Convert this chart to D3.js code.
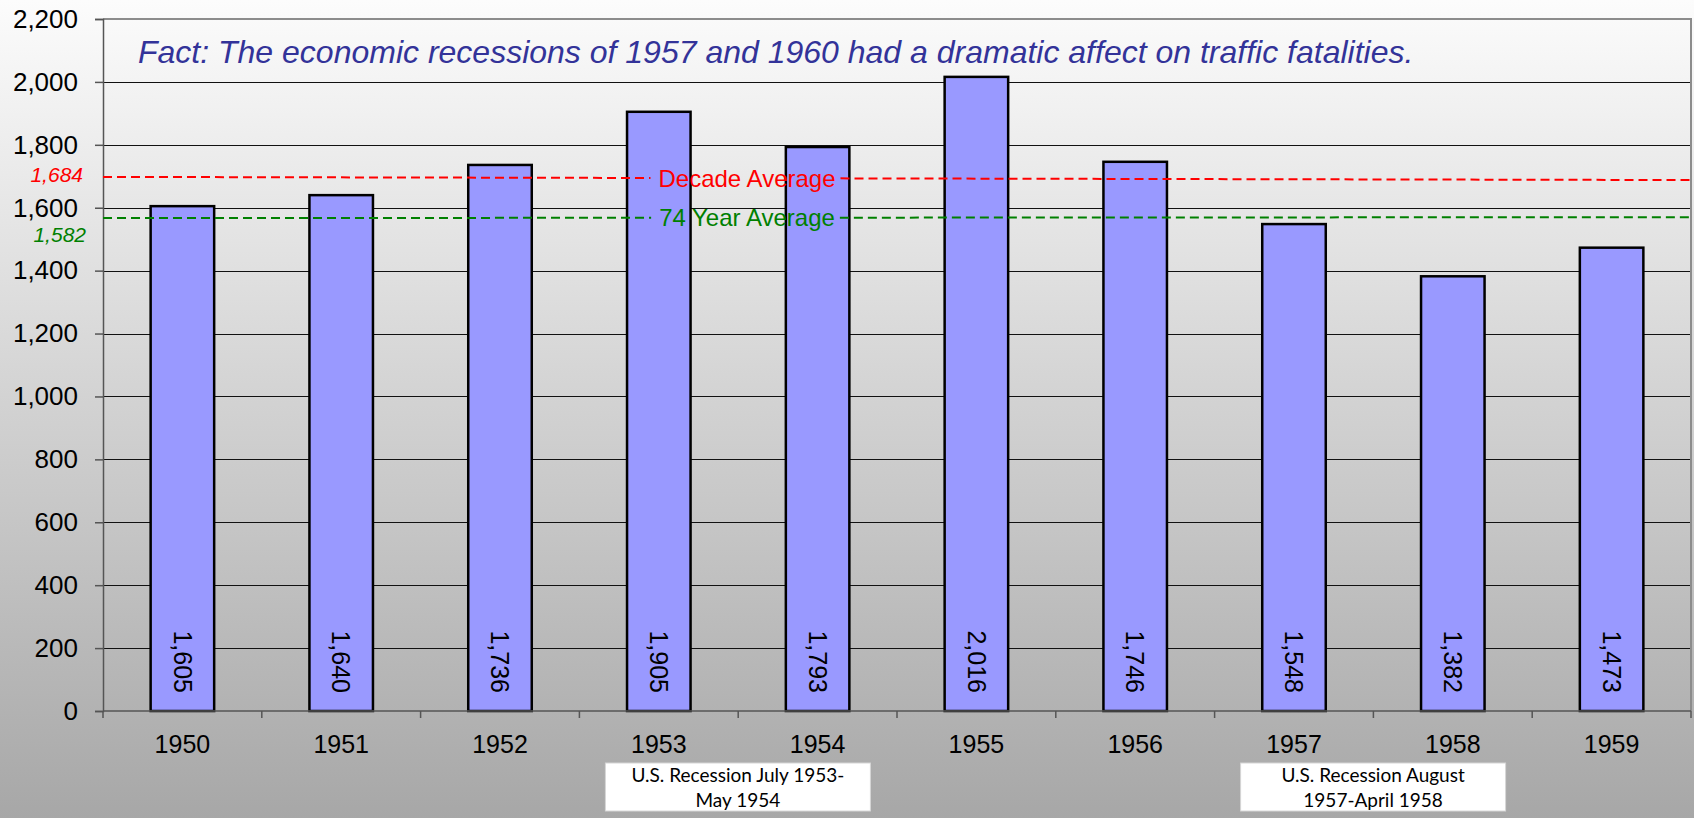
<!DOCTYPE html>
<meta charset="utf-8">
<style>
body { margin: 0; overflow: hidden; }
svg { display: block; font-family: 'Liberation Sans', Arial, sans-serif; }
.grid line { stroke: #111; stroke-width: 1; }
.axis path, .axis line { stroke: #555; stroke-width: 1.5; }
.axis text { font-size: 25px; fill: #000; }
.bar { fill: #9999ff; stroke: #000; stroke-width: 2.5; }
.barlabel { font-size: 25px; fill: #000; }
.note text { font-family: Lato, 'Open Sans', sans-serif; font-size: 19px; fill: #000; }
</style>
<body>
<div id="chart"></div>
<script src="https://cdn.jsdelivr.net/npm/d3@7"></script>
<script>
var years = ["1950","1951","1952","1953","1954","1955","1956","1957","1958","1959"];
var fatalities = [1605,1640,1736,1905,1793,2016,1746,1548,1382,1473];
var yTicks = [0,200,400,600,800,1000,1200,1400,1600,1800,2000,2200];

var avgNames = ["Decade Average","74 Year Average"];
var avgValues = [1684,1582];
// where the dashed lines sit in the picture (left end, right end)
var avgLineStart = [1698,1567];
var avgLineEnd = [1688,1570];
var avgColors = ["#ff0000","#008000"];

var noteYears = ["1953","1957"];
var noteLines = [["U.S. Recession July 1953-","May 1954"],["U.S. Recession August","1957-April 1958"]];

var title = "Fact: The economic recessions of 1957 and 1960 had a dramatic affect on traffic fatalities.";

var W = 1694, H = 818;
var plotL = 103, plotR = 1691, plotT = 19, plotB = 711;

var svg = d3.select('#chart')
            .append('svg')
            .attr('width', W)
            .attr('height', H);

var grad = svg.append('defs').append('linearGradient')
    .attr('id', 'bg')
    .attr('x1', 0).attr('y1', 0).attr('x2', 0).attr('y2', 1);
grad.append('stop').attr('offset', '0%').attr('stop-color', '#fcfcfc');
grad.append('stop').attr('offset', '100%').attr('stop-color', '#a7a7a7');

svg.append('rect')
   .attr('width', W).attr('height', H)
   .attr('fill', 'url(#bg)');

var x = d3.scaleBand()
          .domain(years)
          .range([plotL, plotR])
          .paddingInner(0.6)
          .paddingOuter(0.3);

var xTickScale = d3.scaleBand().domain(years).range([plotL, plotR]);

var y = d3.scaleLinear()
          .domain([0, 2200])
          .range([plotB, plotT]);

// gridlines
svg.append('g')
   .attr('class', 'grid')
   .selectAll('line')
   .data(yTicks.filter(function(d){ return d > 0 && d < 2200; }))
   .enter().append('line')
   .attr('x1', plotL).attr('x2', plotR)
   .attr('y1', function(d){ return Math.round(y(d)) + 0.5; })
   .attr('y2', function(d){ return Math.round(y(d)) + 0.5; });

// plot frame top + right
svg.append('path')
   .attr('d', 'M' + plotL + ',' + plotT + 'H' + plotR + 'V' + plotB)
   .attr('fill', 'none')
   .attr('stroke', '#8c8c8c')
   .attr('stroke-width', 2);

// bars
svg.selectAll('.bar')
   .data(fatalities)
   .enter().append('rect')
   .attr('class', 'bar')
   .attr('x', function(d, i){ return x(years[i]); })
   .attr('width', x.bandwidth())
   .attr('y', function(d){ return y(d); })
   .attr('height', function(d){ return plotB - y(d); });

// value labels, rotated
svg.selectAll('.barlabel')
   .data(fatalities)
   .enter().append('text')
   .attr('class', 'barlabel')
   .attr('text-anchor', 'end')
   .attr('dy', '0.35em')
   .attr('transform', function(d, i){
       return 'translate(' + (x(years[i]) + x.bandwidth() / 2) + ',' + (plotB - 18) + ') rotate(90)';
   })
   .text(function(d){ return d3.format(',')(d); });

// y axis
var yAxis = svg.append('g')
   .attr('class', 'axis')
   .attr('transform', 'translate(' + plotL + ',0)')
   .call(d3.axisLeft(y).tickValues(yTicks).tickSize(8).tickPadding(17).tickFormat(d3.format(',')));
yAxis.selectAll('text').style('font-size', '26px');

// x axis with ticks at band edges
var xAxis = svg.append('g')
   .attr('class', 'axis')
   .attr('transform', 'translate(0,' + plotB + ')');
xAxis.append('line')
   .attr('x1', plotL).attr('x2', plotR);
xAxis.selectAll('.tk')
   .data(years.concat(['end']))
   .enter().append('line')
   .attr('class', 'tk')
   .attr('x1', function(d, i){ return plotL + i * xTickScale.step(); })
   .attr('x2', function(d, i){ return plotL + i * xTickScale.step(); })
   .attr('y1', 0).attr('y2', 7);
xAxis.selectAll('text')
   .data(years)
   .enter().append('text')
   .attr('text-anchor', 'middle')
   .attr('x', function(d){ return x(d) + x.bandwidth() / 2; })
   .attr('y', 42)
   .text(function(d){ return d; });

// average lines with labels
avgValues.forEach(function(v, i){
    var lv = d3.scaleLinear().domain([plotL, plotR]).range([avgLineStart[i], avgLineEnd[i]]);
    var cx = 747;
    var g = svg.append('g');
    var lbl = g.append('text')
       .attr('x', cx)
       .attr('y', y(lv(cx)))
       .attr('dy', '0.35em')
       .attr('text-anchor', 'middle')
       .style('font-size', '24px')
       .attr('fill', avgColors[i])
       .text(avgNames[i]);
    var tw = lbl.node().getComputedTextLength();
    var gap = [cx - tw / 2 - 8, cx + tw / 2 + 5];
    [[plotL, gap[0]], [gap[1], plotR]].forEach(function(seg){
        g.insert('line', 'text')
         .attr('x1', seg[0]).attr('x2', seg[1])
         .attr('y1', y(lv(seg[0]))).attr('y2', y(lv(seg[1])))
         .attr('stroke', avgColors[i])
         .attr('stroke-width', 2)
         .attr('stroke-dasharray', '9,5');
    });
    svg.append('text')
       .attr('x', i === 0 ? 83 : 86)
       .attr('y', y(avgLineStart[i]) + (i === 0 ? 5 : 24))
       .attr('text-anchor', 'end')
       .style('font-size', '21px')
       .style('font-style', 'italic')
       .attr('fill', avgColors[i])
       .text(d3.format(',')(v));
});

// title
svg.append('text')
   .attr('x', 138)
   .attr('y', 63)
   .style('font-size', '32px')
   .style('font-style', 'italic')
   .attr('fill', '#333399')
   .text(title);

// recession notes
noteYears.forEach(function(yr, i){
    var bx = xTickScale(yr) + 26, bw = 265;
    var g = svg.append('g').attr('class', 'note');
    g.append('rect')
     .attr('x', bx).attr('y', plotB + 52)
     .attr('width', bw).attr('height', 48)
     .attr('fill', '#fff')
     .attr('stroke', '#d6d6d6');
    noteLines[i].forEach(function(t, k){
        g.append('text')
         .attr('x', bx + bw / 2)
         .attr('y', plotB + 71 + k * 25)
         .attr('text-anchor', 'middle')
         .text(t);
    });
});
</script>
</body>
